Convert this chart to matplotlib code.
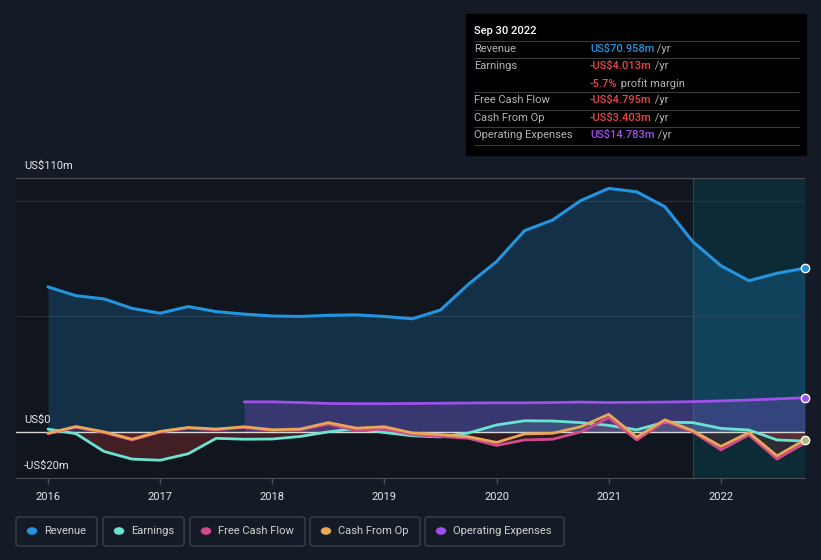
import numpy as np
import matplotlib.pyplot as plt
from matplotlib.patches import Rectangle, FancyBboxPatch

plt.rcParams['font.family'] = ['Roboto', 'DejaVu Sans']
plt.rcParams['lines.solid_joinstyle'] = 'round'
plt.rcParams['lines.solid_capstyle'] = 'round'

# quarterly data, US$m (TTM), Q4 2015 .. Q3 2022
quarters = 2016 + np.arange(28) * 0.25
revenue = [62.8, 59.0, 57.6, 53.5, 51.4, 54.3, 52.1, 51.0, 50.2, 50.0, 50.5, 50.7, 50.0, 49.0,
           52.8, 64.0, 73.8, 87.2, 91.8, 100.2, 105.5, 104.0, 97.6, 82.4, 72.0, 65.5, 68.7, 70.958]
earnings = [1.2, -0.8, -8.5, -11.8, -12.3, -9.5, -2.8, -3.2, -3.1, -2.0, 0.0, 1.5, -0.3, -1.7,
            -2.2, -0.5, 3.0, 4.8, 4.7, 4.0, 2.8, 0.9, 4.2, 4.0, 1.5, 0.8, -3.5, -4.013]
free_cash_flow = [-0.8, 2.0, -0.3, -3.5, -0.1, 1.6, 0.9, 1.9, 0.6, 0.9, 3.4, 0.6, 1.2, -1.2,
                  -2.0, -2.8, -5.9, -3.5, -3.2, 0.0, 6.2, -3.5, 4.5, 0.0, -7.8, -1.3, -11.8, -4.795]
cash_from_op = [-0.6, 2.3, 0.0, -3.2, 0.2, 1.9, 1.2, 2.2, 0.9, 1.2, 4.0, 1.6, 2.2, -0.5,
                -1.2, -2.1, -4.6, -0.9, -0.6, 2.2, 7.6, -2.3, 5.2, 0.5, -6.3, -0.3, -10.4, -3.403]
# operating expenses start at Q3 2017
opex_quarters = quarters[7:]
operating_expenses = [13.0, 13.0, 12.7, 12.3, 12.2, 12.2, 12.3, 12.4, 12.5, 12.6, 12.6, 12.7,
                      12.9, 12.7, 12.8, 12.9, 13.1, 13.4, 13.8, 14.3, 14.783]

year_ticks = [2016, 2017, 2018, 2019, 2020, 2021, 2022]
legend_names = ['Revenue', 'Earnings', 'Free Cash Flow', 'Cash From Op', 'Operating Expenses']

c_rev = '#2394df'
c_earn = '#6be3d1'
c_fcf = '#d04a8c'
c_cfo = '#e9a758'
c_opex = '#a050ea'
bg = '#151b26'

W, H = 821, 560
fig = plt.figure(figsize=(W / 100, H / 100), dpi=100, facecolor=bg)

def fx(x):
    return x / W

def fy(y):
    return 1 - y / H

ax = fig.add_axes([fx(16), fy(478), fx(805) - fx(16), fy(178) - fy(478)])
ax.set_facecolor('#11151d')
ax.set_xlim(2015.715, 2022.75)
ax.set_ylim(-20, 110)

# last-year highlight
ax.axvspan(2021.75, 2022.75, color='#0c3542', alpha=0.7, lw=0, zorder=0)
ax.axvline(2021.75, color='#1e4a57', lw=0.8, zorder=0)

# grid
for v in [50, 100]:
    ax.axhline(v, color='#2a2f38', lw=0.8, zorder=1)
ax.axhline(110, color='#474c55', lw=1, zorder=1)

# revenue
ax.fill_between(quarters, revenue, 0, color=c_rev, alpha=0.22, lw=0, zorder=2)
ax.plot(quarters, revenue, color=c_rev, lw=2.2, zorder=6)

# operating expenses
ax.fill_between(opex_quarters, operating_expenses, 0, color=c_opex, alpha=0.25, lw=0, zorder=3)
ax.plot(opex_quarters, operating_expenses, color=c_opex, lw=2, zorder=6)

# earnings / cash flow fills
e = np.array(earnings)
ax.fill_between(quarters, e, 0, where=e < 0, interpolate=True, color='#c03a3a', alpha=0.28, lw=0, zorder=3)
ax.fill_between(quarters, e, 0, where=e > 0, interpolate=True, color=c_earn, alpha=0.15, lw=0, zorder=3)
f = np.array(free_cash_flow)
ax.fill_between(quarters, f, 0, where=f < 0, interpolate=True, color='#c03a3a', alpha=0.18, lw=0, zorder=3)
ax.fill_between(quarters, f, 0, where=f > 0, interpolate=True, color=c_fcf, alpha=0.15, lw=0, zorder=3)

ax.axhline(0, color='#d8d8d8', lw=1, zorder=4)

ax.plot(quarters, earnings, color=c_earn, lw=2, zorder=5)
ax.plot(quarters, free_cash_flow, color=c_fcf, lw=2, zorder=5)
ax.plot(quarters, cash_from_op, color=c_cfo, lw=2, zorder=5)

# end markers
ax.plot(quarters[-1], revenue[-1], 'o', ms=6, mfc=c_rev, mec='white', mew=1, zorder=8, clip_on=False)
ax.plot(opex_quarters[-1], operating_expenses[-1], 'o', ms=6, mfc=c_opex, mec='white', mew=1, zorder=8, clip_on=False)
ax.plot(quarters[-1], cash_from_op[-1], 'o', ms=6, mfc='#b9b07a', mec='white', mew=1, zorder=8, clip_on=False)

for s in ['top', 'left', 'right']:
    ax.spines[s].set_visible(False)
ax.spines['bottom'].set_color('#4a4f58')
ax.set_yticks([])
ax.set_xticks(year_ticks)
ax.set_xticklabels([str(y) for y in year_ticks])
ax.tick_params(axis='x', colors='#4a4f58', length=4, width=1, pad=6, labelcolor='#e6e6e6', labelsize=8)

# y labels
fig.text(fx(24), fy(166), 'US$110m', color='#e6e6e6', fontsize=8, va='center')
fig.text(fx(24), fy(420), 'US$0', color='#e6e6e6', fontsize=8, va='center')
fig.text(fx(24), fy(466), '-US$20m', color='#e6e6e6', fontsize=8, va='center')

# tooltip box
fig.patches.append(Rectangle((fx(466), fy(155)), fx(806) - fx(466), fy(14) - fy(155),
                             transform=fig.transFigure, color='black', zorder=10))
fig.text(fx(474), fy(31), 'Sep 30 2022', color='white', fontsize=8, fontweight='medium', va='center', zorder=11)
for y in [41, 58, 92, 110, 127, 145]:
    fig.lines.append(plt.Line2D([fx(474), fx(799)], [fy(y), fy(y)], transform=fig.transFigure,
                                color='#3a3a3a', lw=0.8, zorder=11))
rows = [
    (49, 'Revenue', 'US$70.958m', c_rev, ' /yr'),
    (66, 'Earnings', '-US$4.013m', '#e84545', ' /yr'),
    (84, '', '-5.7%', '#e84545', ' profit margin'),
    (100, 'Free Cash Flow', '-US$4.795m', '#e84545', ' /yr'),
    (118, 'Cash From Op', '-US$3.403m', '#e84545', ' /yr'),
    (135, 'Operating Expenses', 'US$14.783m', c_opex, ' /yr'),
]
for y, lab, val, col, suf in rows:
    fig.text(fx(474), fy(y), lab, color='#b4b4b4', fontsize=8, va='center', zorder=11)
    t = fig.text(fx(590), fy(y), val, color=col, fontsize=8, fontweight='medium', va='center', zorder=11)
    fig.canvas.draw()
    bb = t.get_window_extent()
    fig.text(bb.x1 / W, fy(y), suf, color='#b4b4b4', fontsize=8, va='center', zorder=11)

# legend
legend_colors = [c_rev, c_earn, c_fcf, c_cfo, c_opex]
boxes = [(16, 97), (103, 184), (190, 305), (310, 420), (425, 564)]
for (x0, x1), name, col in zip(boxes, legend_names, legend_colors):
    fig.patches.append(FancyBboxPatch((fx(x0), fy(546)), fx(x1) - fx(x0), fy(517) - fy(546),
                                      boxstyle='round,pad=0,rounding_size=0.004',
                                      transform=fig.transFigure, fc='none', ec='#3b404a', lw=1))
    fig.patches.append(plt.Circle((fx(x0 + 16), fy(531)), 0.0055, transform=fig.transFigure,
                                  color=col))
    fig.text(fx(x0 + 28), fy(531), name, color='#d0d0d0', fontsize=8, va='center')

fig.savefig('out.png', dpi=100, facecolor=bg)
